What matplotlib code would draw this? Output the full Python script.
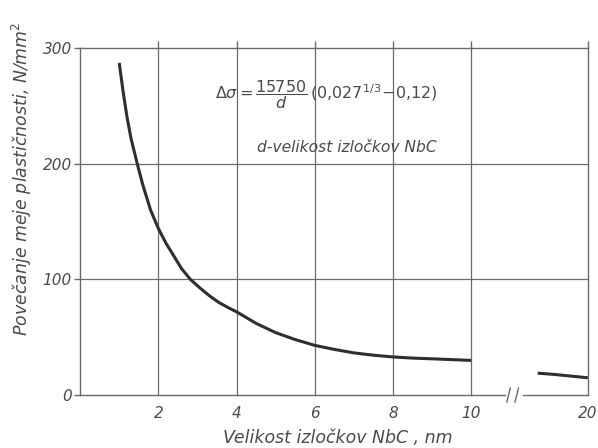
import numpy as np
import matplotlib.pyplot as plt

plt.rcParams['font.family'] = 'DejaVu Sans'
plt.rcParams['mathtext.fontset'] = 'dejavusans'
plt.rcParams['mathtext.default'] = 'it'

# values
d_left = [1.0, 1.1, 1.2, 1.3, 1.46, 1.6, 1.8, 2.0, 2.2, 2.4, 2.6, 2.82, 3.05,
          3.3, 3.55, 3.82, 4.0, 4.5, 5.0, 5.5, 6.0, 6.5, 7.0, 7.5, 8.0, 8.5,
          9.0, 9.5, 10.0]
ds_left = [287, 262, 240, 222, 200, 182, 160, 144, 131, 120, 109, 100, 93,
           86, 80, 75, 72, 62, 54, 48, 43, 39.5, 36.5, 34.5, 33, 32,
           31.4, 30.7, 30]
d_right = [15.7, 17.0, 18.5, 20.0]
ds_right = [19, 18, 16.5, 15]

xticks_left = [2, 4, 6, 8, 10]
yticks = [0, 100, 200, 300]

ink = '#2e2e2e'
txt = '#4a4a4a'
grid = '#6a6a6a'

fig = plt.figure(figsize=(5.98, 4.48), dpi=100)
ax1 = fig.add_axes([0.134, 0.118, 0.654, 0.775])
ax2 = fig.add_axes([0.788, 0.118, 0.195, 0.775])

for ax in (ax1, ax2):
    ax.set_ylim(0, 300)
    ax.set_facecolor('none')
    for s in ax.spines.values():
        s.set_color(grid)
        s.set_linewidth(1.0)
    ax.tick_params(axis='x', bottom=False, top=True, direction='out', length=5,
                   width=1.0, color=grid, labelsize=11, labelcolor=txt, pad=3)
    ax.tick_params(axis='y', length=4, width=1.0, color=grid, labelsize=11,
                   labelcolor=txt, pad=2)

ax1.set_xlim(0, 10)
ax1.set_xticks(xticks_left)
ax1.set_yticks(yticks)
ax1.spines['right'].set_visible(False)
for x in xticks_left:
    ax1.axvline(x, color=grid, lw=0.9, clip_on=False)
for y in yticks[1:3]:
    ax1.axhline(y, color=grid, lw=0.9)
ax1.plot(d_left, ds_left, color=ink, lw=2.2, solid_capstyle='butt',
         solid_joinstyle='round')
for lab in ax1.get_xticklabels() + ax1.get_yticklabels():
    lab.set_style('italic')

ax2.set_xlim(10, 20)
ax2.set_xticks([20])
ax2.set_yticks([])
ax2.spines['left'].set_visible(False)
ax2.spines['bottom'].set_visible(False)
for y in yticks[1:3]:
    ax2.axhline(y, color=grid, lw=0.9)
ax2.plot(d_right, ds_right, color=ink, lw=2.2, solid_capstyle='butt')
for lab in ax2.get_xticklabels():
    lab.set_style('italic')
# broken x axis
gap0, gap1 = 12.9, 14.4
ax2.plot([10, gap0], [0, 0], color=grid, lw=1.0, clip_on=False)
ax2.plot([gap1, 20], [0, 0], color=grid, lw=1.0, clip_on=False)
for gx in (gap0 + 0.3, gap0 + 1.0):
    ax2.plot([gx - 0.15, gx + 0.15], [-6, 6], color=grid, lw=1.0, clip_on=False)

fig.text(0.36, 0.79, r'$\Delta\sigma = \dfrac{15750}{d}\,(0{,}027^{1/3}\!-\!0{,}12)$',
         fontsize=11.5, color=txt, va='center')
fig.text(0.43, 0.66, 'd-velikost izločkov NbC', fontsize=11.2, color=txt,
         style='italic')
fig.text(0.037, 0.6, 'Povečanje meje plastičnosti, N/mm$^2$', rotation=90,
         fontsize=12.5, color=txt, style='italic', ha='center', va='center')
fig.text(0.565, 0.012, 'Velikost izločkov NbC , nm', fontsize=12.5, color=txt,
         style='italic', ha='center')

fig.savefig('out.png', dpi=100)
